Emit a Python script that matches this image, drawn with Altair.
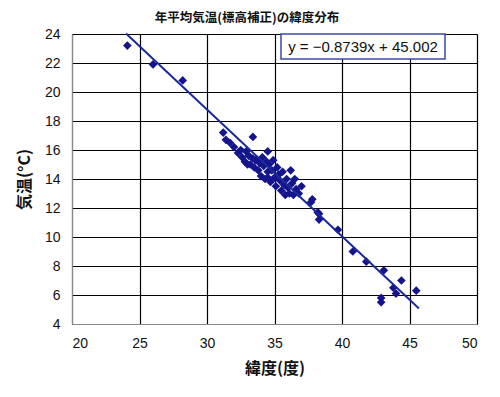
import altair as alt
import pandas as pd

# Station points: latitude (deg) and sea-level-corrected annual mean temperature (C)
lat = [24.1, 26.0, 28.2, 31.2, 31.4, 31.7, 33.4, 34.5, 36.2, 37.8, 38.2,
       37.7, 38.3, 38.3, 39.7, 40.8, 41.8, 43.1, 44.4, 43.8, 44.0, 42.9, 42.9, 45.5,
       32.0, 32.3, 32.5, 32.6, 32.8, 32.9, 33.1, 33.2, 33.4, 33.5, 33.6, 33.8,
       33.9, 34.0, 34.1, 34.2, 34.3, 34.4, 34.5, 34.6, 34.7, 34.8, 34.9, 35.0,
       35.1, 35.2, 35.3, 35.4, 35.5, 35.6, 35.7, 35.8, 35.9, 36.0, 36.1, 36.3,
       36.4, 36.6, 36.8, 37.0, 36.5, 33.0, 34.5]
temp = [23.2, 21.9, 20.8, 17.2, 16.7, 16.5, 16.9, 15.9, 14.6, 12.6, 11.7,
        12.4, 11.6, 11.2, 10.5, 9.0, 8.3, 7.7, 7.0, 6.5, 6.1, 5.8, 5.5, 6.3,
        16.2, 15.8, 16.0, 15.5, 15.2, 15.9, 15.6, 15.0, 15.4, 14.8, 15.3, 14.6,
        15.1, 14.2, 15.5, 14.9, 14.0, 15.2, 14.5, 15.0, 13.8, 14.6, 15.3, 14.1,
        13.5, 14.8, 14.3, 13.9, 13.2, 14.5, 13.6, 12.9, 14.0, 13.4, 13.0, 13.7,
        12.9, 13.3, 13.0, 13.5, 14.0, 15.0, 14.1]

# Trend line from the reported equation
slope = -0.8739
intercept = 45.002
line_x = [24.0, 45.7]

x_ticks = [20, 25, 30, 35, 40, 45, 50]
y_ticks = [4, 6, 8, 10, 12, 14, 16, 18, 20, 22, 24]

title_text = "年平均気温(標高補正)の緯度分布"
x_title = "緯度(度)"
y_title = "気温(°C)"
eq_text = "y = −0.8739x + 45.002"

pts = pd.DataFrame({"lat": lat, "temp": temp})
ln = pd.DataFrame({"lat": line_x, "temp": [slope * v + intercept for v in line_x]})

navy = "#14148c"

xs = alt.Scale(domain=[20, 50], nice=False, zero=False)
ys = alt.Scale(domain=[4, 24], nice=False, zero=False)

x_axis = alt.Axis(values=x_ticks, title=x_title, ticks=False, labelPadding=12,
                  titlePadding=10, grid=True, labelOverlap=False)
y_axis = alt.Axis(values=y_ticks, title=y_title, ticks=False, labelPadding=12,
                  titlePadding=12, grid=True, labelOverlap=False)

points = alt.Chart(pts).mark_point(shape="diamond", filled=True, opacity=1,
                                   color=navy, size=75).encode(
    x=alt.X("lat:Q", scale=xs, axis=x_axis),
    y=alt.Y("temp:Q", scale=ys, axis=y_axis),
)

trend = alt.Chart(ln).mark_line(color="#1a2a9a", strokeWidth=2).encode(
    x=alt.X("lat:Q", scale=xs, axis=x_axis),
    y=alt.Y("temp:Q", scale=ys, axis=y_axis),
)

box = alt.Chart(pd.DataFrame({"t": [eq_text]})).mark_rect(
    fill="white", stroke="#3a4aa8", strokeWidth=1.5).encode(
    x=alt.value(209), x2=alt.value(373), y=alt.value(0), y2=alt.value(25))

eq = alt.Chart(pd.DataFrame({"t": [eq_text]})).mark_text(
    font="Liberation Sans", fontSize=15, color="#111111", align="center",
    baseline="middle").encode(
    x=alt.value(291), y=alt.value(13), text="t:N")

ttl = alt.Chart(pd.DataFrame({"t": [title_text]})).mark_text(
    font="Noto Sans CJK JP", fontSize=12.5, fontWeight="bold", color="#111111",
    align="center", baseline="middle").encode(
    x=alt.value(175), y=alt.value(-16), text="t:N")

chart = alt.layer(points, trend, box, eq, ttl).properties(
    width=405, height=290,
    padding={"left": 64, "top": 26, "right": 15, "bottom": 55},
    autosize=alt.AutoSizeParams(type="none"),
    background="white",
).configure_view(stroke="#888888", strokeWidth=1).configure_axis(
    labelFont="Liberation Sans", labelFontSize=14, labelColor="#111111",
    titleFont="Noto Sans CJK JP", titleFontSize=16, titleFontWeight="bold",
    titleColor="#111111", gridColor="#000000", gridWidth=1.2, gridOpacity=1,
    domainColor="#888888",
)

chart.save("out.html", embed_options={"renderer": "svg", "actions": False})
